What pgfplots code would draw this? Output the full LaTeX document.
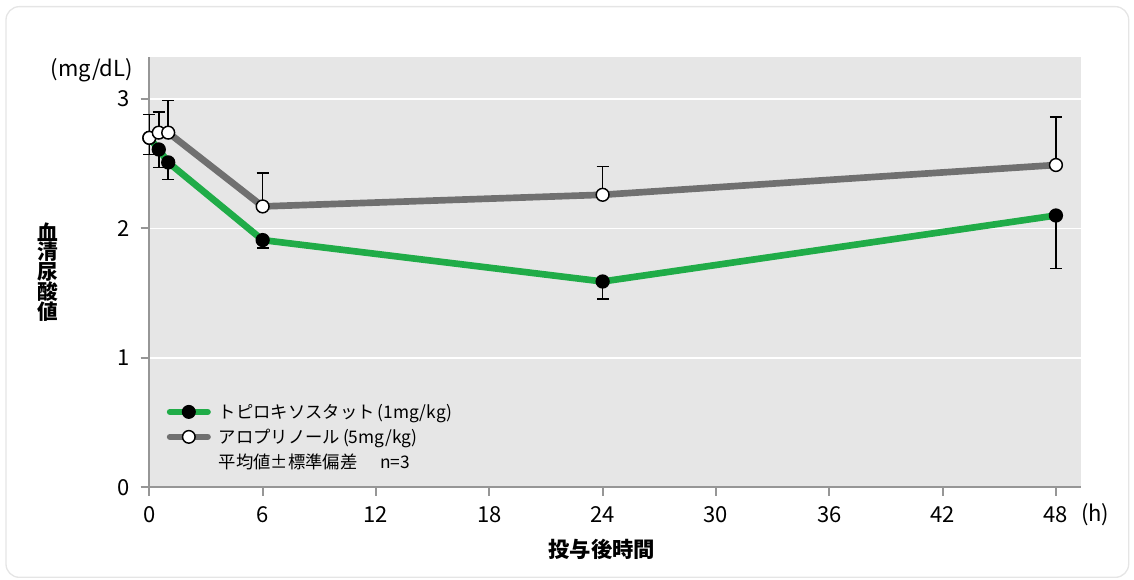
\documentclass[border=0pt]{standalone}
\usepackage{pgfplots}
\pgfplotsset{compat=1.18}
\usepackage{fontspec}
\setmainfont{Noto Sans CJK JP}
\definecolor{bggray}{RGB}{230,230,230}
\definecolor{axgray}{RGB}{150,150,150}
\definecolor{tgreen}{RGB}{32,172,72}
\definecolor{agray}{RGB}{112,112,112}
\begin{document}
\begin{tikzpicture}
\path[use as bounding box] (0,0) rectangle (850.5pt,435pt);
\draw[draw=black!10, line width=1pt, rounded corners=10pt] (4.5pt,430pt) rectangle (846.5pt,2pt);
\begin{axis}[
  at={(112pt,69.5pt)}, anchor=south west,
  scale only axis, width=698.5pt, height=323pt,
  xmin=0, xmax=49.31, ymin=0, ymax=3.327,
  axis x line*=bottom, axis y line*=left,
  axis line style={draw=axgray, line width=1.5pt, -},
  axis background/.style={fill=bggray},
  xtick={0,6,...,48}, ytick={0,1,2,3},
  tick style={draw=axgray, line width=1.5pt},
  tick align=outside, major tick length=6.5pt,
  ymajorgrids, grid style={white, line width=1.2pt},
  clip=false,
  tick label style={font=\fontsize{16.5}{19}\selectfont},
  xticklabel style={yshift=-4.5pt},
  yticklabel style={xshift=-4.5pt},
  /pgf/number format/assume math mode=true,
  legend image code/.code={\draw[mark repeat=2,mark phase=2,#1] plot coordinates {(2.3pt,0pt) (16.5pt,0pt) (30.7pt,0pt)};},
  legend style={at={(rel axis cs:0.0185,0.2007)}, anchor=north west, draw=none, fill=none,
     font=\fontsize{13}{15}\selectfont, row sep=2.5pt, inner sep=0pt,
     /tikz/every odd column/.append style={column sep=4pt}},
  legend cell align=left,
]
\addlegendimage{tgreen, line width=4.6pt, line cap=round, mark=*, mark options={draw=black, fill=black, line width=1.1pt, mark size=4.7pt}}
\addlegendentry{トピロキソスタット\,(1mg/kg)}
\addlegendimage{agray, line width=4.6pt, line cap=round, mark=*, mark options={draw=black, fill=white, line width=1.1pt, mark size=4.7pt}}
\addlegendentry{アロプリノール\,(5mg/kg)}
\addlegendimage{empty legend}
\addlegendentry{\raisebox{-3pt}{平均値±標準偏差\hspace{1.3em}n=3}}

% lines
\addplot[forget plot, agray, line width=5pt, line join=round] coordinates {
 (0,2.70) (0.5,2.74) (1,2.74) (6,2.17) (24,2.26) (48,2.49)};
\addplot[forget plot, tgreen, line width=5pt, line join=round] coordinates {
 (0,2.70) (0.5,2.61) (1,2.51) (6,1.91) (24,1.59) (48,2.10)};
% markers with error bars
\addplot[forget plot, draw=none, mark=*, mark size=4.8pt, mark options={draw=black, fill=black, line width=1.1pt},
  error bars/.cd, y dir=minus, y explicit,
  error bar style={black, line width=1.1pt},
  error mark options={rotate=90, mark size=4.5pt, black, line width=1.1pt}]
 coordinates {
 (0,2.70) +- (0,0.13)
 (0.5,2.61) +- (0,0.14)
 (1,2.51) +- (0,0.13)
 (6,1.91) +- (0,0.06)
 (24,1.59) +- (0,0.135)
 (48,2.10) +- (0,0.41)};
\addplot[forget plot, draw=none, mark=*, mark size=4.8pt, mark options={draw=black, fill=white, line width=1.1pt},
  error bars/.cd, y dir=plus, y explicit,
  error bar style={black, line width=1.1pt},
  error mark options={rotate=90, mark size=4.5pt, black, line width=1.1pt}]
 coordinates {
 (0,2.70) +- (0,0.18)
 (0.5,2.74) +- (0,0.16)
 (1,2.74) +- (0,0.25)
 (6,2.17) +- (0,0.26)
 (24,2.26) +- (0,0.22)
 (48,2.49) +- (0,0.37)};

\node[anchor=east, font=\fontsize{16.5}{19}\selectfont] at (rel axis cs:-0.0125,0.969) {(mg/dL)};
\node[anchor=base west, font=\fontsize{16.5}{19}\selectfont] at (rel axis cs:0.9955,-0.0805) {(h)};
\node[font=\bfseries\fontsize{16}{18}\selectfont] at (rel axis cs:0.486,-0.143) {投与後時間};
\node[align=center, font=\bfseries\fontsize{15.5}{14.9}\selectfont] at (rel axis cs:-0.1088,0.5) {血\\清\\尿\\酸\\値};
\end{axis}
\end{tikzpicture}
\end{document}
